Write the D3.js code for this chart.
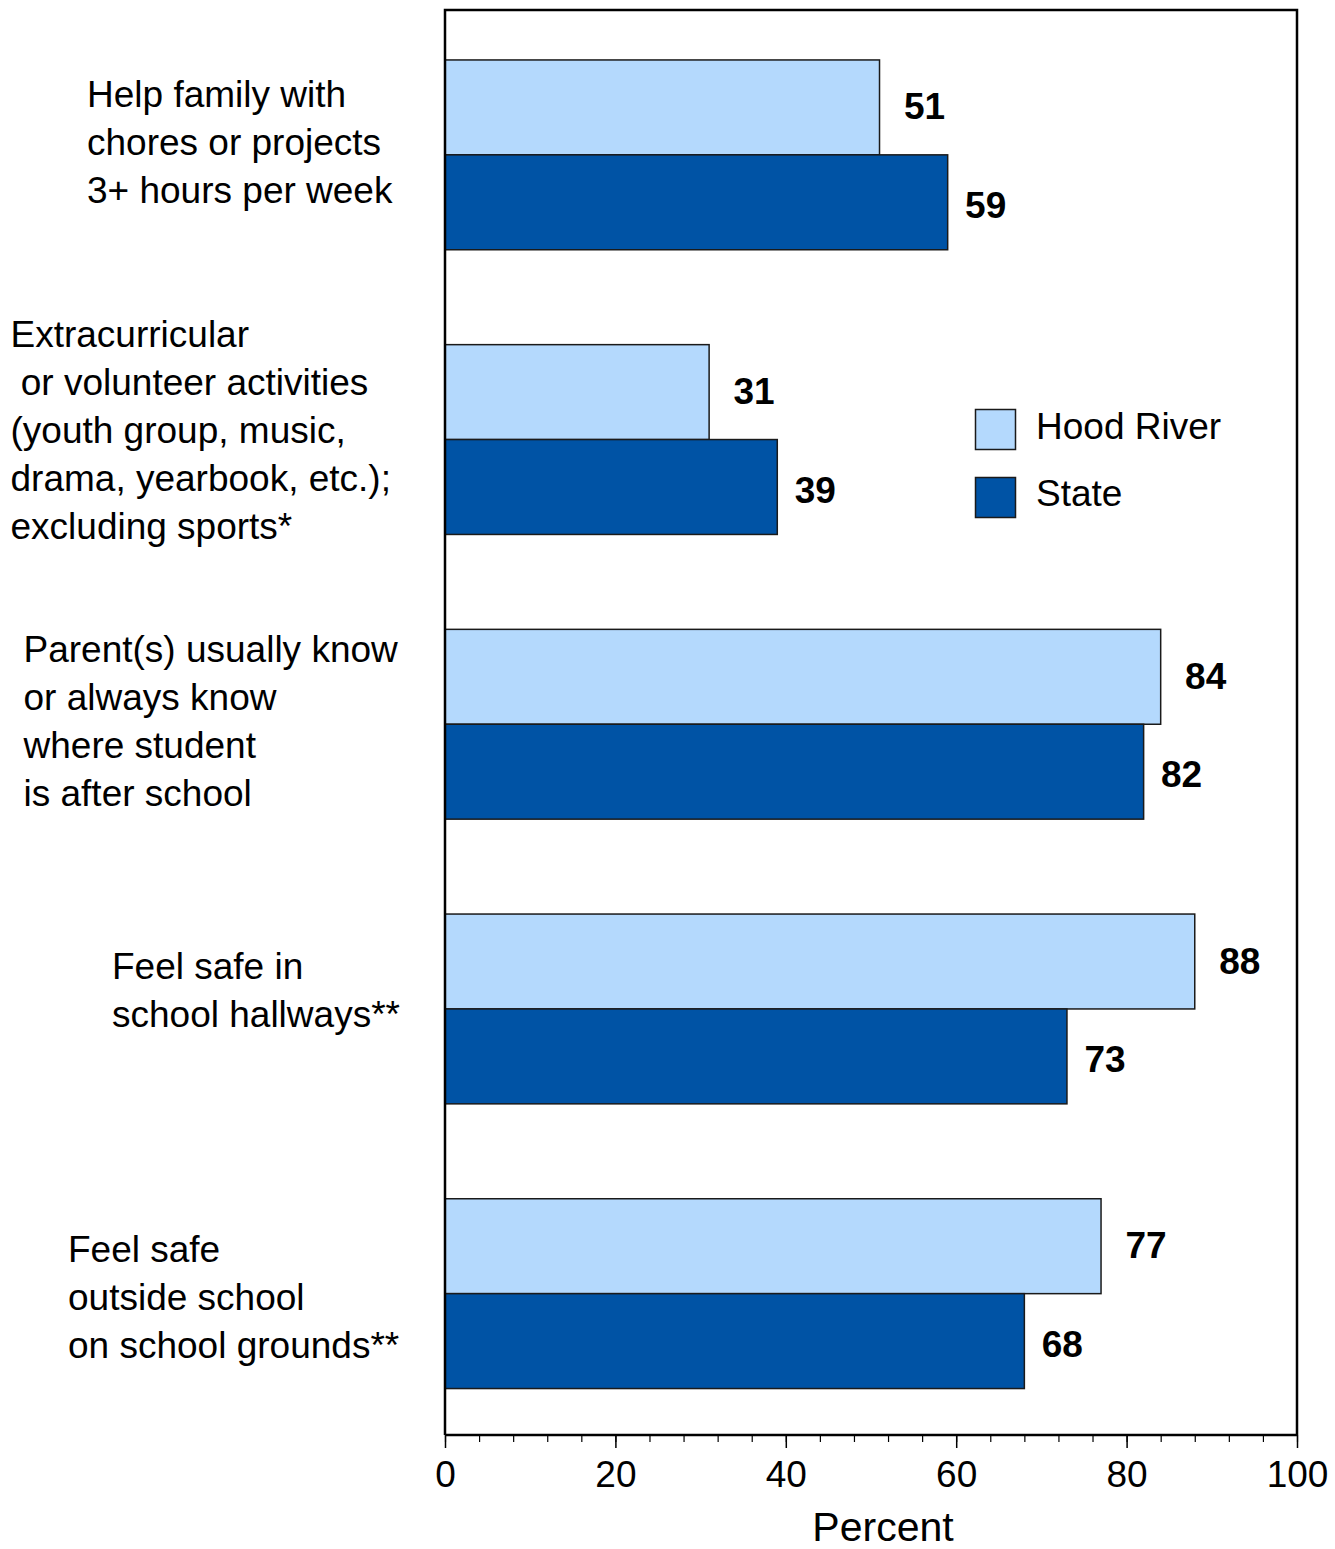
<!DOCTYPE html>
<html>
<head>
<meta charset="utf-8">
<script src="https://cdn.jsdelivr.net/npm/d3@7"></script>
<style>
  html, body { margin: 0; padding: 0; background: #fff; }
  svg { display: block; }
  text { font-family: "Liberation Sans", Arial, sans-serif; fill: #000; }
</style>
</head>
<body>
<svg id="chart" width="1335" height="1549"></svg>
<script>
// ---- data ----
const categories = [
  ["Help family with", "chores or projects", "3+ hours per week"],
  ["Extracurricular", " or volunteer activities", "(youth group, music,", "drama, yearbook, etc.);", "excluding sports*"],
  ["Parent(s) usually know", "or always know", "where student", "is after school"],
  ["Feel safe in", "school hallways**"],
  ["Feel safe", "outside school", "on school grounds**"]
];
const seriesNames = ["Hood River", "State"];
const hoodRiver = [51, 31, 84, 88, 77];
const state = [59, 39, 82, 73, 68];
const xTicks = [0, 20, 40, 60, 80, 100];
const xMinorTicks = d3.range(0, 101, 4);
const xTitle = "Percent";

(function () {
// ---- layout ----
const pLeft = 445, pRight = 1297, pTop = 10, pBottom = 1435;
const colors = ["#B4D9FD", "#0053A5"];
const labelX = [87, 10.5, 23.5, 112, 68];
const labelDy = [0, 3, 10, -6, 16.5];
const lineH = 48;

const svg = d3.select("#chart");

const x = d3.scaleLinear().domain([0, 100]).range([pLeft, pRight]);
const y = d3.scaleBand().domain(d3.range(categories.length))
  .range([pTop + 2.5, pBottom + 1]).paddingInner(1/3).paddingOuter(1/6);
const sub = d3.scaleBand().domain([0, 1]).range([0, y.bandwidth()]);

const series = [hoodRiver, state];

// bars
series.forEach((vals, s) => {
  svg.append("g").selectAll("rect").data(vals).join("rect")
    .attr("x", x(0))
    .attr("y", (d, i) => y(i) + sub(s))
    .attr("width", d => x(d) - x(0))
    .attr("height", sub.bandwidth())
    .attr("fill", colors[s])
    .attr("stroke", "#1a1a1a")
    .attr("stroke-width", 1.5);
});

// value labels
const labelOff = [45, 38];
const labelBase = [12, 15.5];
series.forEach((vals, s) => {
  svg.append("g").selectAll("text").data(vals).join("text")
    .attr("x", d => x(d) + labelOff[s])
    .attr("y", (d, i) => y(i) + sub(s) + sub.bandwidth() / 2 + labelBase[s])
    .attr("text-anchor", "middle")
    .attr("font-size", 37)
    .attr("font-weight", "bold")
    .text(d => d);
});

// frame (top, right, left)
svg.append("path")
  .attr("d", `M${pLeft},${pBottom}V${pTop}H${pRight}V${pBottom}`)
  .attr("fill", "none").attr("stroke", "#000").attr("stroke-width", 2.5);

// x axis minor ticks
svg.append("g").attr("transform", `translate(0,${pBottom})`)
  .call(d3.axisBottom(x).tickValues(xMinorTicks).tickSize(7).tickFormat(""))
  .call(g => g.select(".domain").remove())
  .call(g => g.selectAll("line").attr("stroke", "#000").attr("stroke-width", 1.2));

// x axis major
svg.append("g").attr("transform", `translate(0,${pBottom})`)
  .call(d3.axisBottom(x).tickValues(xTicks).tickSize(13).tickPadding(13).tickFormat(d3.format("d")))
  .call(g => g.select(".domain").attr("stroke", "#000").attr("stroke-width", 2.5).attr("d", `M${pLeft},0H${pRight}`))
  .call(g => g.selectAll("line").attr("stroke", "#000").attr("stroke-width", 1.5))
  .call(g => g.selectAll("text").attr("font-size", 37).attr("font-family", "Liberation Sans, Arial, sans-serif").attr("fill", "#000").attr("dy", "0.71em"));

// x title
svg.append("text")
  .attr("x", 883).attr("y", 1541)
  .attr("text-anchor", "middle")
  .attr("font-size", 41)
  .text(xTitle);

// category labels
categories.forEach((lines, i) => {
  const cy = y(i) + y.bandwidth() / 2;
  const t = svg.append("text")
    .attr("font-size", 37)
    .style("white-space", "pre");
  lines.forEach((ln, j) => {
    t.append("tspan")
      .attr("x", labelX[i])
      .attr("y", cy + labelDy[i] + (j - (lines.length - 1) / 2) * lineH)
      .text(ln);
  });
});

// legend
const leg = svg.append("g");
seriesNames.forEach((name, s) => {
  leg.append("rect")
    .attr("x", 975.5).attr("y", 409.5 + s * 68)
    .attr("width", 40).attr("height", 40)
    .attr("fill", colors[s]).attr("stroke", "#1a1a1a").attr("stroke-width", 1.5);
  leg.append("text")
    .attr("x", 1036).attr("y", 439 + s * 67)
    .attr("font-size", 37)
    .text(name);
});
})();
</script>
</body>
</html>
